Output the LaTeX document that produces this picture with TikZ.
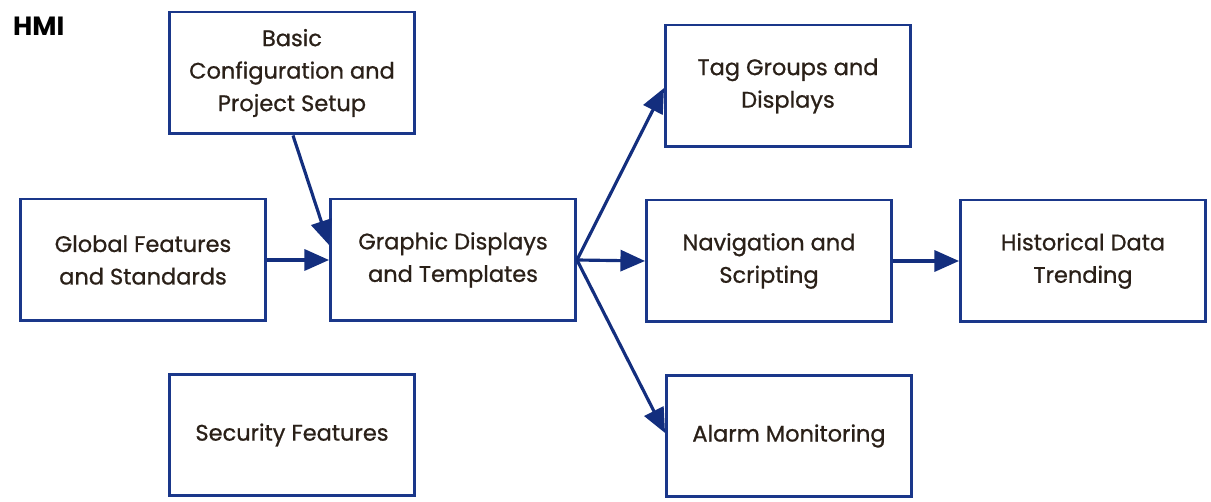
\documentclass[tikz,border=0pt]{standalone}
\usepackage{fontspec}
\setmainfont{Poppins}
\usetikzlibrary{arrows.meta}
\definecolor{boxblue}{HTML}{1A378A}
\definecolor{linkblue}{HTML}{132E7E}
\definecolor{inkdark}{HTML}{2A2018}
\begin{document}
\begin{tikzpicture}[x=0.02cm,y=-0.02cm,
  box/.style={draw=boxblue,line width=1.7pt,fill=white,minimum width=4.9cm,minimum height=2.44cm,
    align=center,text=inkdark,inner sep=0pt,
    font=\addfontfeatures{FakeBold=0.8}\fontsize{12.8}{18.5}\selectfont},
  link/.style={draw=linkblue,line width=1.8pt,-{Triangle[length=14pt,width=12pt]}}]
\useasboundingbox (0,0) rectangle (1211,502);
\node[font=\bfseries\fontsize{15}{16}\selectfont,text=black,anchor=west] (title) at (7,26) {HMI};
\node[box] (basic) at (292,73) {Basic\\Configuration and\\Project Setup};
\node[box] (global) at (143,260) {Global Features\\and Standards};
\node[box] (graphic) at (453,260) {Graphic Displays\\and Templates};
\node[box] (security) at (292,435) {Security Features};
\node[box] (tag) at (788,86) {Tag Groups and\\Displays};
\node[box] (nav) at (769,261) {Navigation and\\Scripting};
\node[box] (alarm) at (789,436) {Alarm Monitoring};
\node[box] (hist) at (1083,261) {Historical Data\\Trending};
\coordinate (fan) at (graphic.east);
\draw[link] (basic.south) ++(1,0) -- ([yshift=0.3cm]graphic.west);
\draw[link] (global) -- (graphic);
\draw[link] (fan) -- ([yshift=-0.04cm]tag.west);
\draw[link] (fan) -- (nav.west);
\draw[link] (fan) -- ([yshift=0.06cm]alarm.west);
\draw[link] (nav) -- (hist);
\end{tikzpicture}
\end{document}
